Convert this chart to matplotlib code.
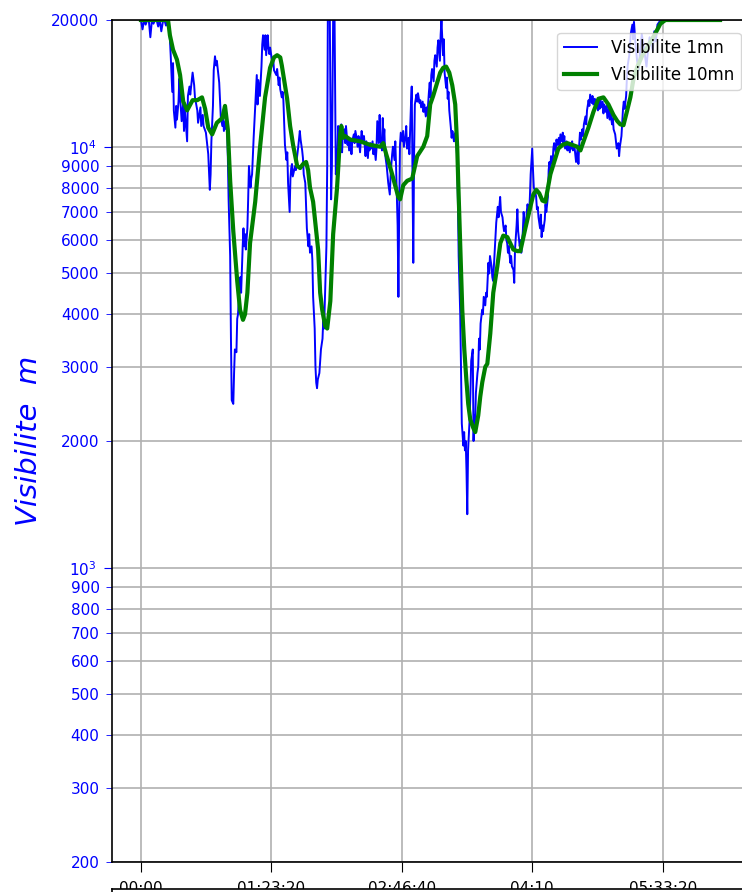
import matplotlib
matplotlib.use("Agg")
import matplotlib.pyplot as plt
from matplotlib.ticker import FormatStrFormatter, FuncFormatter, MultipleLocator

# 1-minute visibility (time in minutes, visibility in m)
t_1mn = [
    0, 1, 2, 3, 4, 5, 6, 7, 8, 9, 10, 11, 12, 13, 14, 15, 16, 17, 18, 18.5,
    19, 20, 20.5, 21, 22, 22.5, 23, 24, 24.5, 25, 26, 27, 27.5, 28, 29.5, 30,
    31, 31.5, 32.5, 33, 34, 34.5, 36, 36.5, 38, 38.5, 39.5, 40, 41.5, 43, 43.5,
    44, 44.5, 45, 46, 46.5, 47.3, 48, 48.5, 49, 50, 50.5, 51, 52, 52.5, 53, 54,
    54.5, 55, 55.5, 56, 57, 57.5, 58, 59, 59.5, 60, 61, 61.5, 62, 63, 63.5, 64,
    65, 65.5, 66, 66.5, 67, 68, 68.5, 69, 70, 70.5, 71, 72, 73, 74, 74.5, 75,
    76, 77, 77.5, 78, 79, 79.5, 80, 81, 81.5, 82, 82.5, 84, 84.5, 85, 86.5, 87,
    88, 88.5, 89, 90, 90.5, 91, 92, 93, 93.5, 94, 95, 95.5, 96, 96.5, 97, 98.5,
    99, 99.5, 100.5, 101.5, 102, 103, 103.5, 104, 105, 105.5, 106, 107, 107.5,
    108, 109, 109.5, 110, 111, 111.5, 112, 112.5, 113, 114, 114.5, 115, 116,
    116.5, 117, 117.5, 118.5, 119, 119.5, 120.5, 121.5, 122, 123, 123.5, 124.5,
    125.5, 126, 127, 128, 128.5, 129, 130, 130.5, 131, 132, 132.5, 133, 134,
    134.5, 135, 136, 136.5, 137, 138, 138.5, 139, 140, 140.5, 141, 142, 142.5,
    143, 143.5, 144, 145, 145.5, 146, 146.5, 147, 148, 148.5, 149, 150, 150.5,
    151, 152, 152.5, 153, 154, 154.5, 155, 155.5, 156, 157, 157.5, 158, 159,
    159.5, 160, 160.5, 161, 162, 162.5, 163, 164, 164.5, 165, 165.5, 166, 167,
    167.5, 168, 169, 169.5, 170, 171, 171.5, 172, 172.5, 173, 174, 174.5, 175,
    176, 176.5, 177, 178, 178.5, 179, 180, 180.5, 181, 182, 182.5, 183, 184,
    184.5, 185, 185.5, 186, 187, 187.5, 188, 189, 189.5, 190, 191, 191.5, 192,
    193, 193.5, 194, 195, 195.5, 196, 196.5, 197, 198, 198.5, 199, 200, 200.5,
    201, 202, 202.5, 203, 204, 204.5, 205, 206, 206.5, 207, 207.5, 208, 208.5,
    209, 210, 210.5, 211, 212, 212.5, 213, 213.5, 214, 215, 215.5, 216, 216.5,
    217, 218, 218.5, 219, 220, 220.5, 221, 222, 222.5, 223, 224, 224.5, 225,
    226, 226.5, 227, 228, 228.5, 229, 229.5, 230, 231, 231.5, 232, 233, 233.5,
    234, 234.5, 235, 236, 236.5, 237, 238, 238.5, 239, 240, 240.5, 241, 242,
    242.5, 243, 244, 244.5, 245, 246, 246.5, 247, 248, 248.5, 249, 250, 250.5,
    251, 252, 252.5, 253, 253.5, 254, 255, 255.5, 256, 256.5, 257, 258, 258.5,
    259, 260, 260.5, 261, 261.5, 262, 263, 263.5, 264, 265, 265.5, 266, 267,
    267.5, 268, 269, 269.5, 270, 270.5, 271, 272, 272.5, 273, 274, 274.5, 275,
    275.5, 276, 277, 277.5, 278, 279, 279.5, 280, 280.5, 281, 282, 282.5, 283,
    284, 284.5, 285, 286, 286.5, 287, 288, 288.5, 289, 290, 290.5, 291, 292,
    292.5, 293, 293.5, 294, 295, 295.5, 296, 297, 297.5, 298, 299, 299.5, 300,
    301, 301.5, 302, 303, 303.5, 304, 305, 305.5, 306, 307, 307.5, 308, 308.5,
    309, 310, 310.5, 311, 312, 312.5, 313, 314, 314.5, 315, 316, 317, 318, 319,
    320, 322, 323, 324, 325, 327, 328, 329, 330, 332, 340, 350, 360, 370,
]
vis_1mn = [
    20000, 19000, 20000, 19500, 20000, 20000, 18200, 20000, 19600, 20000,
    20000, 19300, 20000, 18800, 19800, 20000, 19400, 20000, 19000, 18000,
    16500, 13500, 15800, 12200, 11100, 12500, 11600, 12800, 14500, 13200,
    11500, 12700, 10900, 12300, 10300, 13200, 13900, 13300, 14400, 15000,
    14000, 13100, 12200, 11400, 12400, 11200, 11900, 11200, 10800, 9600, 8700,
    7900, 8600, 10300, 12500, 15200, 16400, 15600, 16000, 15400, 14200, 13000,
    11800, 11200, 11800, 10900, 11500, 11000, 11300, 9500, 7500, 5500, 3500,
    2500, 2450, 2900, 3300, 3250, 3900, 4000, 4600, 4900, 4500, 5800, 6400,
    5800, 6200, 5700, 6400, 7500, 9000, 8000, 8400, 8600, 10500, 12400, 14800,
    12600, 14400, 13200, 15500, 17500, 18400, 17000, 18400, 16500, 18400,
    17200, 16600, 17200, 15800, 16200, 15200, 14800, 15300, 14000, 14600,
    13700, 13100, 13500, 12900, 10100, 9300, 9700, 8200, 7000, 8400, 8900,
    9100, 8500, 9000, 8800, 9300, 10000, 10900, 10400, 9800, 9400, 8600, 8200,
    7300, 6400, 5800, 6200, 5600, 5800, 5400, 4400, 3700, 3000, 2750, 2670,
    2800, 2900, 3100, 3300, 3500, 3900, 3700, 4300, 5800, 9000, 25000, 25000,
    7500, 9000, 25000, 25000, 8600, 9500, 11200, 10500, 11300, 9700, 10800,
    11000, 10200, 11200, 10100, 10500, 9800, 10400, 9600, 10300, 10700, 10200,
    10900, 10400, 10000, 10600, 9700, 10400, 10900, 10200, 10600, 10000, 9500,
    10300, 9400, 10100, 9800, 10200, 9900, 10300, 9600, 10100, 9300, 9900,
    11500, 10200, 11900, 10400, 9800, 11700, 10300, 11000, 9600, 9000, 8600,
    8200, 7700, 8500, 9100, 9600, 10000, 9300, 10300, 9000, 6500, 4400, 7000,
    10100, 10800, 10300, 10900, 10000, 10600, 11200, 9900, 10500, 9600, 11000,
    12500, 13900, 5300, 9500, 12600, 13300, 12800, 13400, 12700, 12900, 12400,
    12800, 12100, 12600, 11800, 12400, 11900, 13500, 14200, 13100, 14800,
    15300, 14300, 16000, 16500, 15500, 17200, 17900, 16000, 18500, 20000,
    16500, 18000, 15000, 13800, 14600, 13000, 13500, 12200, 11100, 10500,
    10900, 10300, 10700, 10800, 9500, 7500, 5500, 4000, 3000, 2200, 1950, 2100,
    1900, 2000, 1700, 1340, 1900, 2250, 2600, 3100, 3300, 2000, 2300, 2200,
    2600, 2900, 3000, 3500, 3300, 3800, 4100, 4000, 4400, 4200, 4500, 4400,
    5300, 5000, 5500, 5200, 4900, 4800, 5600, 6000, 6600, 7200, 6800, 7200,
    7600, 7000, 6800, 6500, 6300, 6500, 6000, 5900, 5600, 5800, 5300, 5500,
    5200, 5100, 4750, 5700, 6500, 7100, 6300, 5800, 6000, 5600, 6300, 7000,
    6700, 6400, 7000, 7300, 6900, 7600, 8600, 9900, 8800, 8000, 7800, 7600,
    7100, 7200, 6800, 6400, 6900, 6100, 6500, 6300, 6700, 7300, 7000, 7600,
    8800, 9200, 8700, 9500, 9100, 9900, 10200, 9700, 10400, 10100, 10500,
    10000, 10700, 10300, 10800, 10200, 10600, 9900, 10300, 9800, 10200, 9700,
    10100, 9900, 10300, 9800, 10000, 9600, 9200, 9900, 9100, 10100, 10800,
    10400, 11000, 10600, 11300, 11800, 11300, 12200, 12900, 12500, 13300,
    12700, 13200, 12600, 13000, 12400, 12900, 12200, 12800, 12300, 13000,
    12400, 12800, 12000, 12600, 12100, 12500, 11700, 12300, 11600, 12000,
    11300, 11700, 11000, 10700, 10300, 9900, 10200, 9500, 10000, 10600, 11400,
    12300, 12800, 12300, 13200, 14600, 15600, 16500, 17500, 18600, 19500,
    18000, 19800, 17500, 16000, 15200, 17000, 18500, 16500, 15500, 17000,
    18200, 16900, 18800, 17800, 19500, 20000, 20000, 20000, 20000, 20000,
]

# 10-minute visibility
t_10mn = [
    0, 12, 17.3, 18.5, 20.5, 23, 25, 27, 29.5, 31.5, 33, 36, 39, 41, 43, 45.5,
    48.5, 52, 53.7, 55.5, 57, 59, 61.5, 63.3, 65.2, 66.5, 68, 69.7, 73, 76,
    79.3, 82.5, 85, 87, 89, 90, 92, 93.4, 95.3, 97.2, 99.8, 101.7, 103.6,
    105.5, 106.8, 108, 110, 112, 113.2, 114.5, 115.8, 117.7, 119, 121, 122.8,
    125.3, 127.3, 128, 129.2, 130.5, 133.7, 140, 146.5, 152.9, 154.8, 156.7,
    158.6, 160.5, 162.4, 164.4, 165.6, 167.6, 170.1, 173.3, 176.5, 180.4,
    182.9, 184.8, 186.7, 189.3, 191.2, 193.1, 195, 197, 198.9, 200.8, 202.1,
    202.7, 204, 205.3, 206.6, 207.9, 209.1, 210.4, 212.3, 213.6, 215.5, 216.8,
    218.1, 220, 221.3, 223.2, 225.1, 227.7, 229.6, 231.5, 234.1, 236, 237.9,
    240.5, 242.4, 245.6, 248.8, 250.7, 252.6, 254.5, 256.5, 258.4, 261.6,
    264.8, 266.7, 269.3, 272.4, 275.6, 278.8, 280.8, 282.8, 285.9, 289.1,
    292.3, 295.5, 298.7, 301.9, 304.4, 306.3, 308.3, 310.2, 312.7, 314.7,
    317.2, 320.4, 324.2, 328.7, 331.9, 335.1, 370,
]
vis_10mn = [
    20000, 20000, 20000, 18400, 17000, 16100, 14800, 12800, 12200, 12600,
    12900, 12900, 13100, 12300, 11100, 10700, 11400, 11700, 12500, 11000,
    8300, 6300, 4800, 4100, 3880, 4000, 4500, 5900, 7400, 9900, 13100, 15400,
    16300, 16500, 16300, 15600, 14000, 13000, 11200, 10100, 9000, 8900, 9100,
    9200, 8800, 8000, 7400, 6300, 5700, 4500, 4100, 3750, 3700, 4300, 6200,
    8000, 10700, 11200, 10500, 10600, 10400, 10300, 10100, 10000, 10200, 9600,
    9100, 8600, 8100, 7600, 7500, 8100, 8300, 8400, 9500, 10000, 10600, 12600,
    13200, 14200, 15000, 15400, 15500, 15000, 14000, 12600, 9900, 8300, 5800,
    4100, 3300, 2800, 2450, 2250, 2150, 2100, 2300, 2550, 2760, 3000, 3050,
    3600, 4500, 5200, 5900, 6150, 6100, 5900, 5700, 5650, 5650, 6400, 7200,
    7700, 7900, 7750, 7450, 7400, 8600, 9400, 9900, 10100, 10200, 10100,
    10000, 9800, 10300, 11100, 12100, 13000, 13100, 12600, 11900, 11500,
    11300, 11250, 12000, 13100, 14500, 15500, 16500, 17400, 18600, 19600,
    20000, 20000,
]


def hms(x, pos):
    s = int(round(x))
    h, r = divmod(s, 3600)
    m, sec = divmod(r, 60)
    txt = f"{h:02d}:{m:02d}"
    if sec:
        txt += f":{sec:02d}"
    return txt


fig = plt.figure(figsize=(7.42, 8.92), dpi=100)
ax = fig.add_axes([112 / 742, 30 / 892, 637 / 742, 842 / 892])

ax.plot([t * 60 for t in t_1mn], vis_1mn, color="b", lw=1.4, label="Visibilite 1mn")
ax.plot([t * 60 for t in t_10mn], vis_10mn, color="g", lw=3, label="Visibilite 10mn")

ax.set_yscale("log")
ax.set_ylim(200, 20000)
ax.yaxis.set_minor_formatter(FormatStrFormatter("%d"))
ax.tick_params(axis="y", which="both", colors="b", labelsize=11, pad=5)
ax.tick_params(axis="y", which="major", length=6)
ax.tick_params(axis="y", which="minor", length=4)

ax.xaxis.set_major_locator(MultipleLocator(5000))
ax.xaxis.set_major_formatter(FuncFormatter(hms))
ax.tick_params(axis="x", labelsize=11, length=7, pad=7)

ax.grid(True, which="major", color="#b0b0b0", lw=1.2)
ax.grid(True, which="minor", axis="y", color="#b0b0b0", lw=1.2)
for sp in ax.spines.values():
    sp.set_linewidth(1.2)

ax.set_ylabel("Visibilite  m", color="b", fontsize=21, style="italic", labelpad=6)
ax.legend(loc="upper right", fontsize=12, bbox_to_anchor=(0.987, 0.985),
          borderaxespad=0)

# start of the next panel below (only its top edge is visible)
ax2 = fig.add_axes([112 / 742, -0.5, 637 / 742, 0.5 + 3 / 892])
ax2.set_xticks([])
ax2.set_yticks([])
for sp in ax2.spines.values():
    sp.set_linewidth(1.2)

fig.savefig("out.png", dpi=100)
